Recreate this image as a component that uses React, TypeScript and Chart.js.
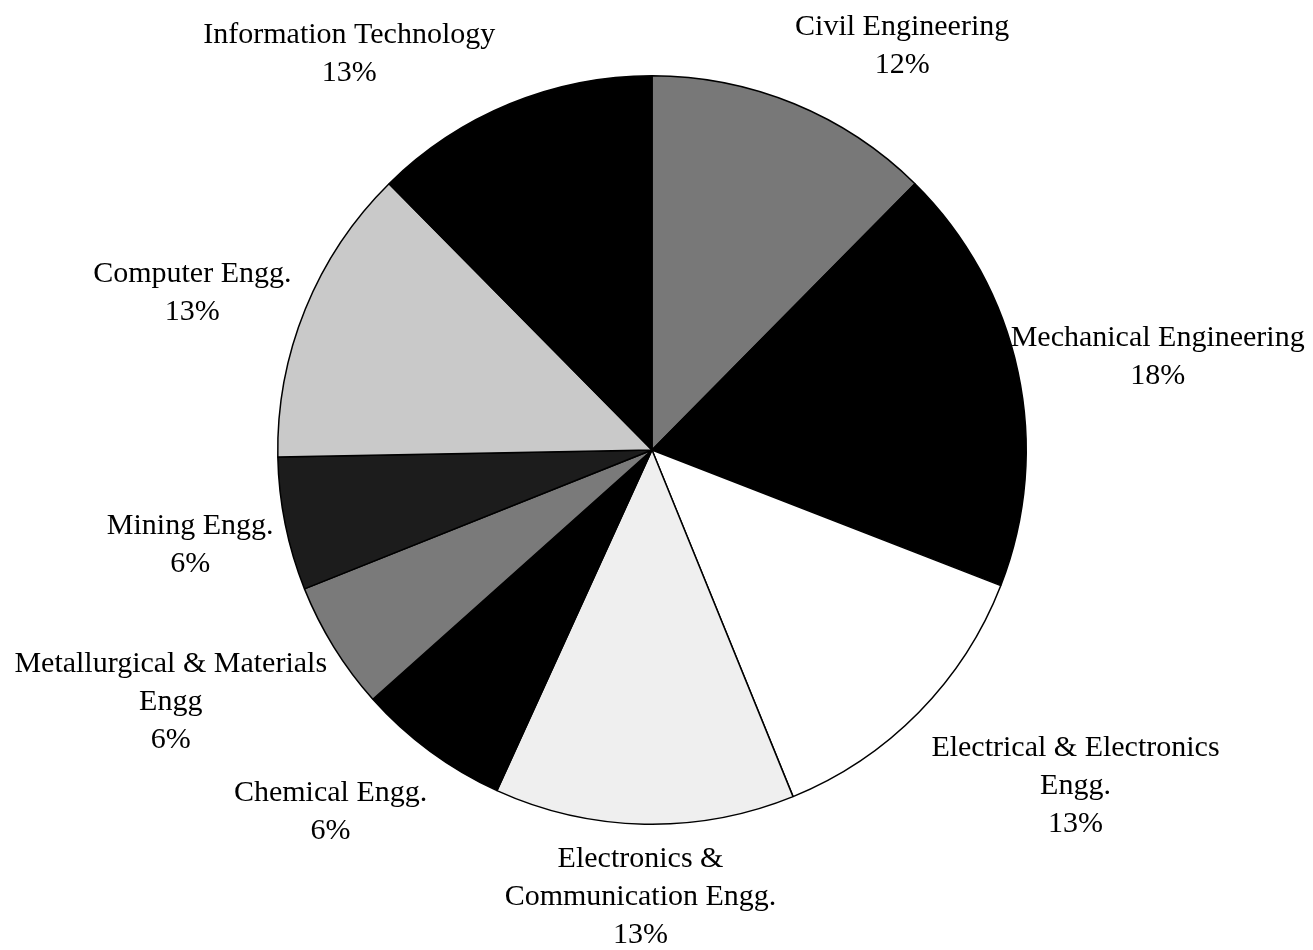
import React, { useEffect, useRef } from "react";
import { Chart, registerables } from "chart.js";

Chart.register(...registerables);

const categories: string[][] = [
  ["Civil Engineering"],
  ["Mechanical Engineering"],
  ["Electrical & Electronics", "Engg."],
  ["Electronics &", "Communication Engg."],
  ["Chemical Engg."],
  ["Metallurgical & Materials", "Engg"],
  ["Mining Engg."],
  ["Computer Engg."],
  ["Information Technology"],
];
const shares: number[] = [12.4, 18.5, 12.95, 12.95, 6.6, 5.55, 5.75, 12.9, 12.4];
const pctLabels: string[] = ["12%", "18%", "13%", "13%", "6%", "6%", "6%", "13%", "13%"];

// styling / layout (not data)
const fills: string[] = ["#787878", "#000000", "#ffffff", "#efefef", "#000000", "#7a7a7a", "#1c1c1c", "#c9c9c9", "#000000"];
const labelNudge: number[][] = [[21, -6], [-22, 4], [2, 6], [2, 1], [6, 11], [6, -10], [3, 3], [0, 18], [-44, 2]];

const FONT = "30px 'Liberation Serif', 'Times New Roman', serif";
const LINE_H = 38;

const outsideLabels = {
  id: "outsideLabels",
  afterDraw(chart: any) {
    const ctx = chart.ctx;
    const meta = chart.getDatasetMeta(0);
    ctx.save();
    ctx.font = FONT;
    ctx.fillStyle = "#000";
    ctx.textAlign = "center";
    ctx.textBaseline = "middle";
    meta.data.forEach((arc: any, i: number) => {
      const p = arc.getProps(["startAngle", "endAngle", "outerRadius", "x", "y"], true);
      const mid = (p.startAngle + p.endAngle) / 2;
      const lines = [...categories[i], pctLabels[i]];
      const w = Math.max(...lines.map((l) => ctx.measureText(l).width));
      const h = lines.length * LINE_H;
      const r = p.outerRadius + 15;
      const px = p.x + Math.cos(mid) * r;
      const py = p.y + Math.sin(mid) * r;
      const k = 2;
      const sx = Math.max(-1, Math.min(1, Math.cos(mid) * k));
      const sy = Math.max(-1, Math.min(1, Math.sin(mid) * k));
      const cx = px + (w / 2) * sx + labelNudge[i][0];
      const cy = py + (h / 2) * sy + labelNudge[i][1];
      lines.forEach((l, j) => {
        ctx.fillText(l, cx, cy - h / 2 + LINE_H * (j + 0.5));
      });
    });
    ctx.restore();
  },
};

export default function App() {
  const ref = useRef<HTMLCanvasElement | null>(null);
  useEffect(() => {
    document.body.style.margin = "0";
    const chart = new Chart(ref.current as HTMLCanvasElement, {
      type: "pie",
      data: {
        labels: categories.map((c) => c.join(" ")),
        datasets: [
          {
            data: shares,
            backgroundColor: fills,
            borderColor: "#000000",
            borderWidth: 1.5,
          },
        ],
      },
      options: {
        responsive: false,
        animation: false,
        layout: { padding: { left: 277, right: 286, top: 75, bottom: 125 } },
        plugins: { legend: { display: false }, tooltip: { enabled: false } },
      },
      plugins: [outsideLabels],
    });
    return () => chart.destroy();
  }, []);
  return (
    <div style={{ width: 1313, height: 950, background: "#fff" }}>
      <canvas ref={ref} width={1313} height={950} />
    </div>
  );
}
